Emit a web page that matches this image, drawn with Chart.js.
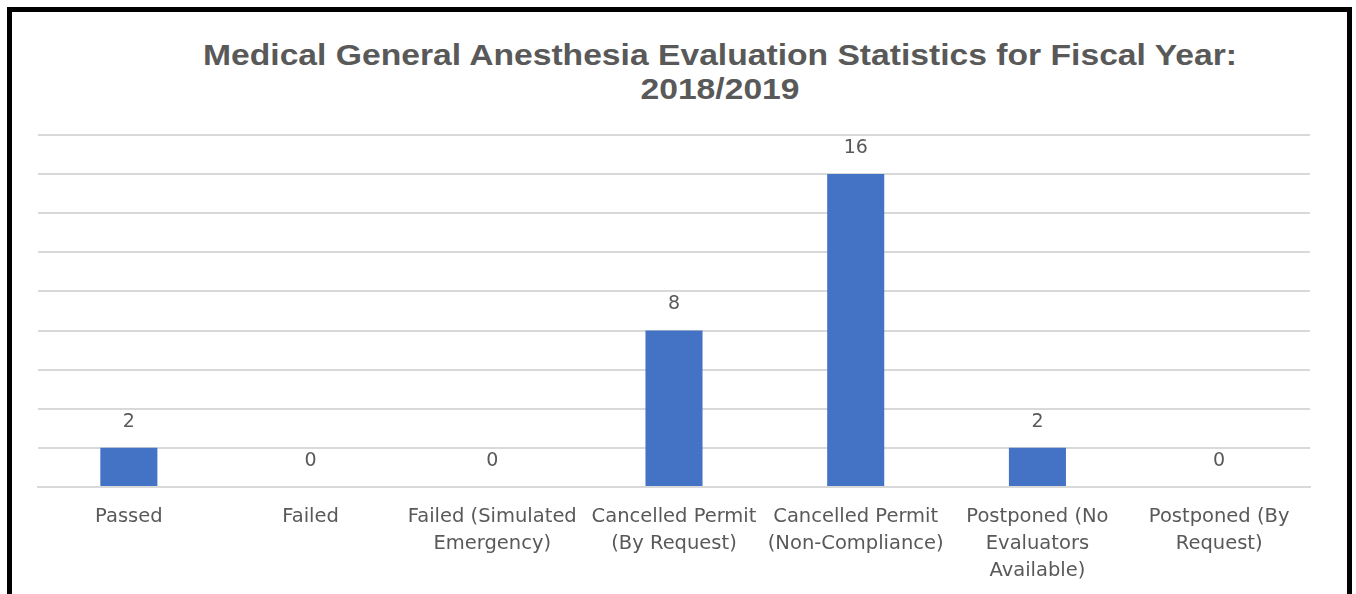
<!DOCTYPE html>
<html>
<head>
<meta charset="utf-8">
<script src="https://cdn.jsdelivr.net/npm/chart.js@4"></script>
<style>
    html, body { margin: 0; padding: 0; background: #fff; }
    #wrap { position: relative; width: 1356px; height: 594px; overflow: hidden; }
    #frame { position: absolute; left: 7px; top: 7px; width: 1335px; height: 700px; border: 5px solid #000; }
    #title { position: absolute; left: 0; top: 38px; width: 1440px; text-align: center;
             font: bold 29px "Liberation Sans", Arial, sans-serif; line-height: 34px; color: #595959;
             transform: scaleX(1.16); transform-origin: 720px 0; }
    canvas { position: absolute; left: 0; top: 0; }
</style>
</head>
<body>
<div id="wrap">
    <div id="frame"></div>
    <div id="title">Medical General Anesthesia Evaluation Statistics for Fiscal Year:<br>2018/2019</div>
    <canvas id="evalChart" width="1356" height="600"></canvas>
</div>
<script>
// categories and counts
const categories = [
    ['Passed'],
    ['Failed'],
    ['Failed (Simulated', 'Emergency)'],
    ['Cancelled Permit', '(By Request)'],
    ['Cancelled Permit', '(Non-Compliance)'],
    ['Postponed (No', 'Evaluators', 'Available)'],
    ['Postponed (By', 'Request)']
];
const counts = [2, 0, 0, 8, 16, 2, 0];
const yMax = 18;
const yStep = 2;

const labelFont = '"DejaVu Sans", "Open Sans", sans-serif';
const textGray = '#595959';

// value labels above each bar
const valueLabels = {
    id: 'valueLabels',
    afterDatasetsDraw(chart) {
        const ctx = chart.ctx;
        const meta = chart.getDatasetMeta(0);
        ctx.save();
        ctx.font = '19px ' + labelFont;
        ctx.fillStyle = textGray;
        ctx.textAlign = 'center';
        ctx.textBaseline = 'middle';
        meta.data.forEach((bar, i) => {
            ctx.fillText(String(counts[i]), bar.x, bar.y - 26);
        });
        ctx.restore();
    }
};

const ctx = document.getElementById('evalChart').getContext('2d');
new Chart(ctx, {
    type: 'bar',
    data: {
        labels: categories,
        datasets: [{
            data: counts,
            backgroundColor: '#4472C4',
            borderWidth: 0,
            categoryPercentage: 1,
            barPercentage: 0.314
        }]
    },
    options: {
        responsive: false,
        animation: false,
        layout: {
            padding: { left: 38, right: 46, top: 135, bottom: 0 }
        },
        plugins: {
            legend: { display: false },
            title: { display: false },
            tooltip: { enabled: false }
        },
        scales: {
            x: {
                grid: { display: false, drawTicks: false },
                border: { display: true, color: '#d9d9d9', width: 2 },
                ticks: {
                    color: textGray,
                    font: { family: labelFont, size: 19.5, lineHeight: 1.385 },
                    maxRotation: 0,
                    autoSkip: false,
                    padding: 16
                }
            },
            y: {
                min: 0,
                max: yMax,
                display: true,
                ticks: { display: false, stepSize: yStep },
                grid: { color: '#d9d9d9', lineWidth: 2, drawTicks: false },
                border: { display: false }
            }
        }
    },
    plugins: [valueLabels]
});
</script>
</body>
</html>
